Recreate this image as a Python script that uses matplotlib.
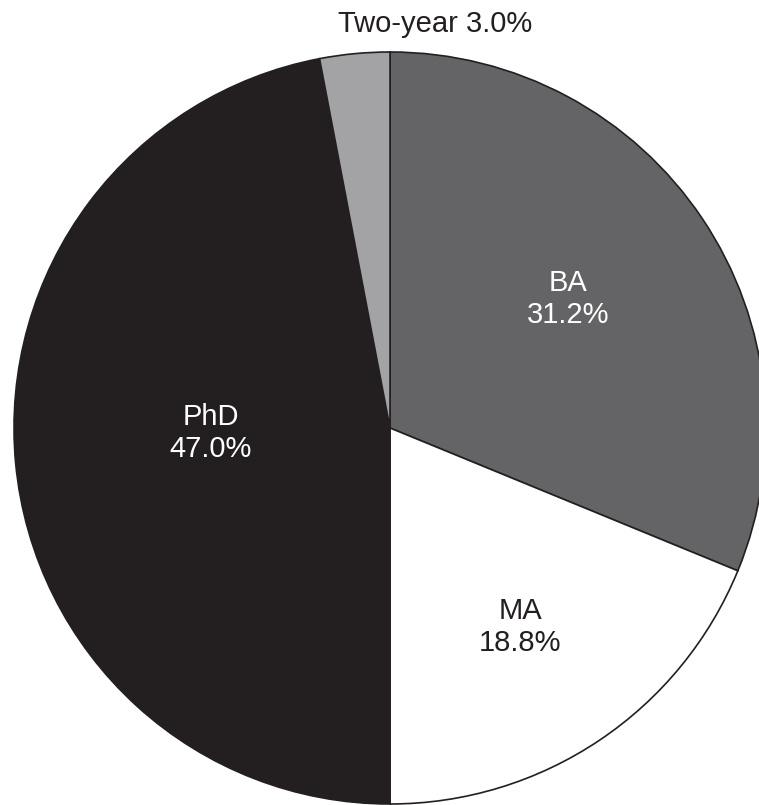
import matplotlib
matplotlib.use('Agg')
from matplotlib import pyplot as plt

# fatias no sentido horario a partir do topo
categorias = ['BA', 'MA', 'PhD', 'Two-year']
valores = [31.2, 18.8, 47.0, 3.0]
cores = ['#646466', '#ffffff', '#231f20', '#a3a3a6']
cor_texto = ['white', '#231f20', 'white', '#231f20']

plt.rcParams['font.family'] = ['Liberation Sans', 'DejaVu Sans']

fig = plt.figure(figsize=(7.59, 8.05), dpi=100)
# centro do circulo em (390, 428) px, raio 376 px
cx, cy, r = 390, 428, 376
W, H = 759, 805
ax = fig.add_axes([(cx - r) / W, (H - cy - r) / H, 2 * r / W, 2 * r / H])

ax.pie(valores, colors=cores, startangle=90, counterclock=False,
       wedgeprops=dict(edgecolor='#231f20', linewidth=1.2), radius=1)
ax.set_xlim(-1, 1)
ax.set_ylim(-1, 1)
ax.set_aspect('equal')
ax.axis('off')

# posicoes dos rotulos (em px da imagem original)
pos = {'BA': (568, 299), 'MA': (520, 627), 'PhD': (211, 433)}
for cat, v, c in zip(categorias, valores, cor_texto):
    if cat == 'Two-year':
        ax.text((435 - cx) / r, (cy - 24) / r, '%s %.1f%%' % (cat, v),
                ha='center', va='center', fontsize=21, color=c, clip_on=False)
    else:
        px, py = pos[cat]
        ax.text((px - cx) / r, (cy - py) / r, '%s\n%.1f%%' % (cat, v),
                ha='center', va='center', fontsize=21, color=c,
                linespacing=1.2)

fig.savefig('out.png', dpi=100)
